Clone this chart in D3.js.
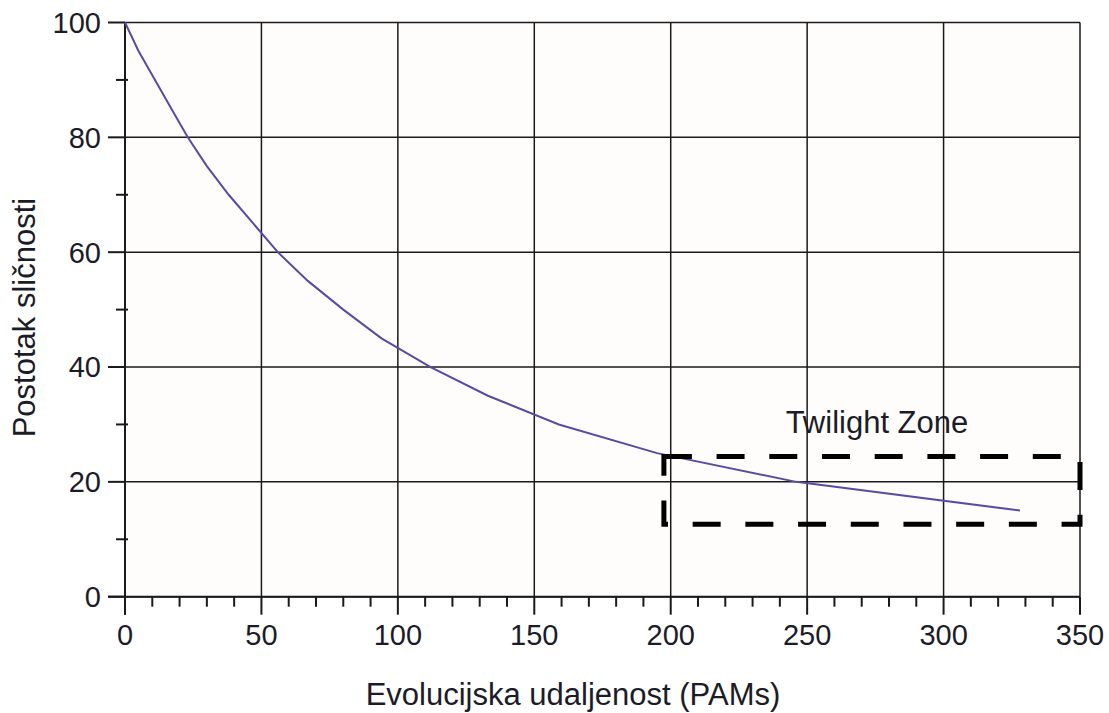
<!DOCTYPE html>
<html>
<head>
<meta charset="utf-8">
<script src="https://cdn.jsdelivr.net/npm/d3@7"></script>
<style>
  body { margin: 0; background: #fff; }
  text { font-family: "Liberation Sans", Arial, sans-serif; fill: #1c1c28; }
</style>
</head>
<body>
<svg id="chart"></svg>
<script>
// PAM distance vs. percent identity (Dayhoff table)
const pamValues = [0, 1, 5, 11, 17, 23, 30, 38, 47, 56, 67, 80, 94, 112, 133, 159, 195, 246, 328];
const identityValues = [100, 99, 95, 90, 85, 80, 75, 70, 65, 60, 55, 50, 45, 40, 35, 30, 25, 20, 15];
const xTicks = [0, 50, 100, 150, 200, 250, 300, 350];
const yTicks = [0, 20, 40, 60, 80, 100];
const zoneX = [197.5, 350];
const zoneY = [12.6, 24.4];
const zoneLabel = "Twilight Zone";

const width = 1109;
const height = 713;
const margin = { left: 125, right: 29, top: 22.5, bottom: 116.3 };

const svg = d3.select("#chart")
  .attr("width", width)
  .attr("height", height);

const x = d3.scaleLinear().domain([0, 350]).range([margin.left, width - margin.right]);
const y = d3.scaleLinear().domain([0, 100]).range([height - margin.bottom, margin.top]);

// plot background
svg.append("rect")
  .attr("x", x(0)).attr("y", y(100))
  .attr("width", x(350) - x(0)).attr("height", y(0) - y(100))
  .attr("fill", "#fefdfc");

// grid
svg.append("g").selectAll("line")
  .data(xTicks)
  .join("line")
  .attr("x1", d => x(d)).attr("x2", d => x(d))
  .attr("y1", y(100)).attr("y2", y(0))
  .attr("stroke", "#1a1a1a").attr("stroke-width", 1.5);

svg.append("g").selectAll("line")
  .data(yTicks)
  .join("line")
  .attr("x1", x(0)).attr("x2", x(350))
  .attr("y1", d => y(d)).attr("y2", d => y(d))
  .attr("stroke", "#1a1a1a").attr("stroke-width", 1.5);

// x axis: major + minor ticks
const xAxis = svg.append("g").attr("transform", `translate(0,${y(0)})`);
xAxis.selectAll(".minor")
  .data(d3.range(0, 351, 10).filter(v => v % 50 !== 0))
  .join("line")
  .attr("x1", d => x(d)).attr("x2", d => x(d))
  .attr("y1", 0).attr("y2", 10)
  .attr("stroke", "#1a1a1a").attr("stroke-width", 2);
xAxis.selectAll(".major")
  .data(xTicks)
  .join("line")
  .attr("x1", d => x(d)).attr("x2", d => x(d))
  .attr("y1", 0).attr("y2", 18)
  .attr("stroke", "#1a1a1a").attr("stroke-width", 2);
xAxis.selectAll("text")
  .data(xTicks)
  .join("text")
  .attr("x", d => x(d))
  .attr("y", 48)
  .attr("text-anchor", "middle")
  .attr("font-size", 29)
  .text(d => d);

// y axis
const yAxis = svg.append("g").attr("transform", `translate(${x(0)},0)`);
yAxis.selectAll(".minor")
  .data(d3.range(10, 100, 20))
  .join("line")
  .attr("x1", -9).attr("x2", 3)
  .attr("y1", d => y(d)).attr("y2", d => y(d))
  .attr("stroke", "#1a1a1a").attr("stroke-width", 2);
yAxis.selectAll(".major")
  .data(yTicks)
  .join("line")
  .attr("x1", -17).attr("x2", 0)
  .attr("y1", d => y(d)).attr("y2", d => y(d))
  .attr("stroke", "#1a1a1a").attr("stroke-width", 2);
yAxis.selectAll("text")
  .data(yTicks)
  .join("text")
  .attr("x", -24)
  .attr("y", d => y(d))
  .attr("dy", "0.36em")
  .attr("text-anchor", "end")
  .attr("font-size", 29)
  .text(d => d);

// axis lines
svg.append("line")
  .attr("x1", x(0)).attr("x2", x(0)).attr("y1", y(100)).attr("y2", y(0) + 18)
  .attr("stroke", "#1a1a1a").attr("stroke-width", 2);
svg.append("line")
  .attr("x1", x(0) - 17).attr("x2", x(350)).attr("y1", y(0)).attr("y2", y(0))
  .attr("stroke", "#1a1a1a").attr("stroke-width", 2);

// curve
const line = d3.line()
  .x((d, i) => x(pamValues[i]))
  .y(d => y(d));
svg.append("path")
  .datum(identityValues)
  .attr("fill", "none")
  .attr("stroke", "#5b4ba0")
  .attr("stroke-width", 2)
  .attr("d", line);

// twilight zone box
const zx0 = x(zoneX[0]), zx1 = x(zoneX[1]), zy0 = y(zoneY[1]), zy1 = y(zoneY[0]);
svg.append("path")
  .attr("d", `M${zx0},${zy0}H${zx1}V${zy1}H${zx0}Z`)
  .attr("fill", "none")
  .attr("stroke", "#000")
  .attr("stroke-width", 5)
  .attr("stroke-dasharray", "28,24.7");

svg.append("text")
  .attr("x", (x(zoneX[0]) + x(zoneX[1])) / 2 + 5)
  .attr("y", y(zoneY[1]) - 24)
  .attr("text-anchor", "middle")
  .attr("font-size", 31)
  .text(zoneLabel);

// axis titles
svg.append("text")
  .attr("x", 573)
  .attr("y", 705)
  .attr("text-anchor", "middle")
  .attr("font-size", 31)
  .text("Evolucijska udaljenost (PAMs)");

svg.append("text")
  .attr("transform", `translate(35,${(y(0) + y(100)) / 2 + 8}) rotate(-90)`)
  .attr("text-anchor", "middle")
  .attr("font-size", 31)
  .text("Postotak sličnosti");
</script>
</body>
</html>
